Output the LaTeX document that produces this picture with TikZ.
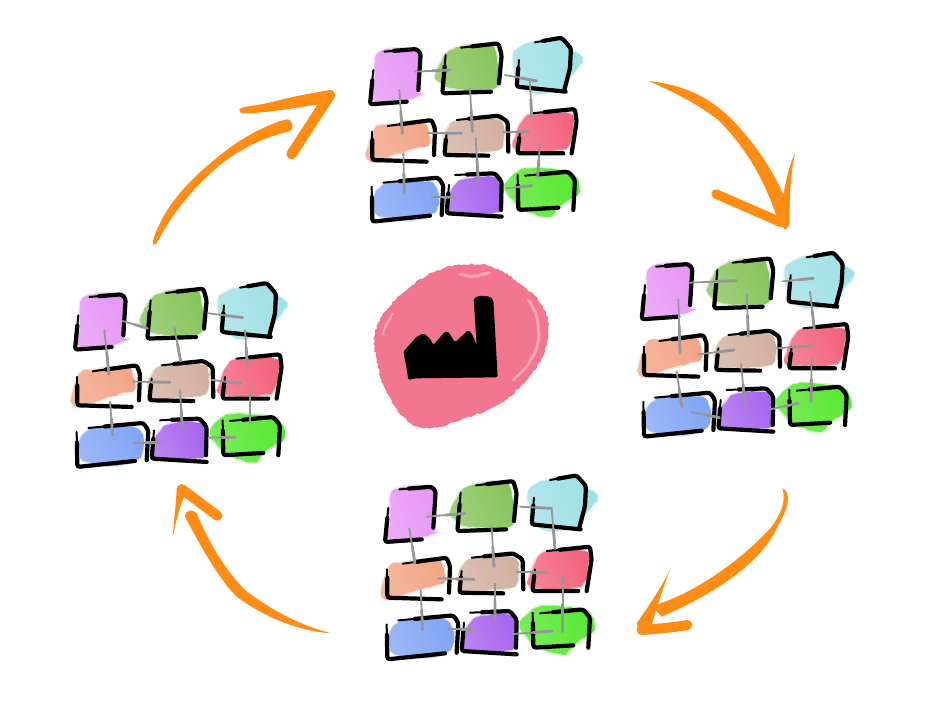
\documentclass[tikz,border=0pt]{standalone}
\usetikzlibrary{calc, decorations.pathmorphing}
\definecolor{pad_pink}{RGB}{230, 150, 245}
\definecolor{pad_green}{RGB}{136, 196, 92}
\definecolor{pad_cyan}{RGB}{160, 224, 230}
\definecolor{pad_salmon}{RGB}{242, 165, 135}
\definecolor{pad_tan}{RGB}{210, 176, 160}
\definecolor{pad_red}{RGB}{242, 100, 125}
\definecolor{pad_blue}{RGB}{130, 165, 245}
\definecolor{pad_violet}{RGB}{168, 100, 238}
\definecolor{pad_lime}{RGB}{88, 232, 50}
\definecolor{blob_rose}{RGB}{243, 118, 145}
\definecolor{arrow_orange}{RGB}{255, 140, 20}
\definecolor{link_gray}{RGB}{150, 150, 150}

\tikzset{
    % Wash of colour under each square
    padfill/.style={
        left color=#1!80!white,
        right color=#1,
        shading angle=115,
        decorate,
        decoration={random steps, segment length=4pt, amplitude=0.8pt}
    },
    padhalo/.style={
        draw=#1,
        line width=3pt,
        opacity=0.3,
        line join=round
    },
    % Black pen
    inkthin/.style={
        line width=2pt,
        line cap=round
    },
    ink/.style={
        line width=4.2pt,
        line cap=round,
        line join=round,
        rounded corners=2.5pt
    },
    % Gray links
    padlink/.style={
        draw=link_gray,
        line width=1.8pt,
        line cap=round
    },
    % Worn rim on the rose patch
    rimwash/.style={
        draw=white,
        opacity=0.35,
        line width=#1,
        line cap=round,
        decorate,
        decoration={random steps, segment length=3pt, amplitude=0.6pt}
    },
    % Orange arrows
    arrowink/.style={
        fill=arrow_orange
    },
    arrowbar/.style={
        draw=arrow_orange,
        line width=#1,
        line cap=round
    }
}

% colour, blob, top pen stroke, left pen stroke
\newcommand{\padcell}[8]{
    \draw[padhalo=#1] plot[smooth cycle, tension=0.5] coordinates {#2};
    \shade[padfill=#1] plot[smooth cycle, tension=0.5] coordinates {#2};
    \draw[inkthin] #3 -- #4;
    \draw[ink] ($#3!0.3!#4$) -- #4 #5;
    \draw[inkthin] #6 -- #7;
    \draw[ink] ($#6!0.3!#7$) -- #7 #8;
}

\newcommand{\padcells}{
    \padcell{pad_pink}{(65,90) (125,70) (185,85) (190,195) (205,205) (150,225) (60,228) (60,170)}
        {(88,80)}{(185,72)}{-- (197,85) -- (190,195)}{(55,135)}{(45,238)}{-- (155,230)}
    \padcell{pad_green}{(242,150) (275,85) (340,60) (415,68) (430,175) (380,195) (290,190) (260,175)}
        {(318,68)}{(430,55)}{-- (440,90) -- (432,175)}{(272,90)}{(262,205)}{-- (408,200)}
    \padcell{pad_cyan}{(475,90) (520,55) (610,45) (640,70) (680,100) (650,150) (620,190) (540,205) (490,175)}
        {(540,52)}{(620,38)}{-- (648,70) -- (645,130) -- (628,195)}{(492,105)}{(485,185)}{-- (632,200)}
    \padcell{pad_salmon}{(35,390) (60,310) (100,300) (200,290) (225,340) (215,360) (130,385) (60,410)}
        {(98,303)}{(230,285)}{-- (240,310) -- (237,390)}{(52,320)}{(52,405)}{-- (215,410)}
    \padcell{pad_tan}{(265,340) (300,290) (430,285) (445,350) (420,375) (300,385) (275,380)}
        {(305,285)}{(430,272)}{-- (458,290) -- (460,380)}{(275,325)}{(268,390)}{-- (400,392)}
    \padcell{pad_red}{(480,340) (520,270) (640,265) (655,300) (630,370) (490,375)}
        {(530,265)}{(660,252)}{-- (665,290) -- (650,385)}{(495,320)}{(487,385)}{-- (625,385)}
    \padcell{pad_blue}{(60,510) (100,475) (220,470) (250,510) (240,560) (170,585) (70,570)}
        {(85,473)}{(250,458)}{-- (265,480) -- (260,570)}{(50,485)}{(52,590)}{-- (225,572)}
    \padcell{pad_violet}{(280,520) (320,465) (420,460) (440,545) (400,565) (290,565)}
        {(300,450)}{(420,445)}{-- (440,470) -- (438,555)}{(282,480)}{(275,565)}{-- (440,575)}
    \padcell{pad_lime}{(450,490) (490,440) (540,430) (650,445) (672,500) (620,540) (580,575) (500,550)}
        {(510,452)}{(640,440)}{-- (660,465) -- (655,555)}{(488,450)}{(490,555)}{-- (610,548)}
}

% prefix, origin x, origin y, links
\newcommand{\padgrid}[4]{
    \begin{scope}[shift={(#2,#3)}, x=0.3333pt, y=-0.3333pt]
        \foreach \i/\cx/\cy in {1/120/150, 2/350/130, 3/560/120, 4/140/350, 5/360/330,
                                6/570/320, 7/150/520, 8/360/510, 9/570/500}
            \coordinate (#1\i) at (\cx,\cy);
        \padcells
        \foreach \a/\ax/\ay/\b/\bx/\by in {#4} {
            \coordinate (from) at ([shift={(\ax,\ay)}]#1\a);
            \coordinate (to) at ([shift={(\bx,\by)}]#1\b);
            \draw[padlink] (from) -- (to);
            \draw[padlink, line width=2.8pt] ($(from)!0.5!(to)$) -- (to);
        }
    \end{scope}
}

\begin{document}
\begin{tikzpicture}[x=1pt, y=-1pt]
\useasboundingbox (0,0) rectangle (950,713);
\fill[white] (0,0) rectangle (950,713);

% The four grids
\padgrid{t}{355}{25}{1/60/-10/2/-65/5, 2/100/20/3/-15/48, 3/-35/50/6/-40/-45,
    1/13/45/4/2/-25, 2/-5/60/5/-8/-10, 4/78/-25/5/-40/-5, 5/85/-8/6/-50/0,
    4/5/35/7/-2/-15, 5/2/10/8/10/-38, 6/-15/35/9/-22/-45, 7/80/-3/8/-62/7, 8/92/-20/9/-40/-18}
\padgrid{r}{626.7}{240}{1/70/-22/2/-20/-8, 2/118/-6/3/0/-5, 3/-10/35/6/-7/-52,
    1/35/28/4/20/-10, 2/10/35/5/5/-42, 4/75/-7/5/-38/0, 5/90/-5/6/-15/-3,
    4/10/45/7/15/-20, 5/-17/42/8/-5/-15, 6/-15/35/9/-17/-15, 7/40/-5/8/-82/23, 8/70/-2/9/-55/-10}
\padgrid{b}{370}{462.7}{1/50/12/2/-65/22, 2/100/2/3/-15/17, 3/-15/17/6/-15/-63,
    1/-2/47/4/-5/-48, 2/15/62/5/12/-18, 4/65/-3/5/-48/20, 5/80/-1/6/-40/9,
    4/12/32/7/8/-18, 5/15/32/8/15/-41, 6/8/22/9/8/7, 7/85/-20/8/-52/-10, 8/70/4/9/-22/5}
\padgrid{l}{60}{270.3}{1/68/2/2/-88/44, 2/95/-1/3/-12/22, 3/-5/59/6/-8/-36,
    1/13/29/4/7/-38, 2/-7/42/5/2/-58, 4/78/-16/5/-30/6, 5/95/-1/6/-28/19,
    4/10/44/7/8/-26, 5/0/29/8/7/-36, 6/0/42/9/0/-44, 7/70/-3/8/-60/7, 8/85/-8/9/-45/1}

% Factory on its rose patch
\begin{scope}[shift={(365,255)}, x=0.3333pt, y=-0.3333pt]
    \fill[blob_rose, decorate, decoration={random steps, segment length=2.5pt, amplitude=0.9pt}]
        plot[smooth cycle, tension=0.7] coordinates {(30,240) (60,170) (130,100) (210,50) (290,30)
            (380,35) (470,90) (530,150) (550,220) (530,310) (470,390) (400,450) (300,490)
            (190,520) (120,490) (60,400) (35,310)};
    \draw[rimwash=3pt] (490,135) .. controls (520,170) and (535,240) .. (505,300);
    \draw[rimwash=2.5pt] (445,375) .. controls (475,350) and (490,330) .. (505,300);
    \draw[rimwash=3pt] (285,58) .. controls (320,68) and (345,62) .. (375,52);
    \draw[rimwash=2pt] (55,240) .. controls (60,215) and (70,195) .. (85,175);
    \fill[black, rounded corners=1.5pt] (115,290) -- (155,245) -- (175,235) -- (195,250) -- (205,270)
        -- (240,230) -- (250,230) -- (270,262) -- (310,225) -- (320,235) -- (335,270) -- (326,130)
        -- (345,122) -- (375,125) -- (385,135) -- (390,220) -- (398,367) -- (150,370)
        -- (130,375) -- (125,340) -- cycle;
\end{scope}

% Orange arrows, clockwise from the top
\begin{scope}[shift={(630,70)}, x=0.3333pt, y=-0.3333pt]
    \fill[arrowink] (55,33) .. controls (170,45) and (230,85) .. (275,120)
        .. controls (350,185) and (425,290) .. (460,375)
        .. controls (470,320) and (480,280) .. (495,250)
        .. controls (480,320) and (478,400) .. (478,465) -- (465,480) -- (440,440)
        .. controls (400,320) and (340,225) .. (265,150)
        .. controls (200,100) and (120,60) .. (55,33) -- cycle;
    \draw[arrowbar=9.5pt] (258,372) -- (455,458);
\end{scope}
\begin{scope}[shift={(625,480)}, x=0.3333pt, y=-0.3333pt]
    \fill[arrowink] (472,25) .. controls (495,35) and (498,70) .. (460,135)
        .. controls (410,250) and (270,340) .. (110,410) -- (92,390) -- (100,372)
        .. controls (230,330) and (370,220) .. (440,140)
        .. controls (480,85) and (480,50) .. (472,25) -- cycle;
    \fill[arrowink] (135,270) .. controls (112,330) and (95,385) .. (78,440)
        -- (45,462) -- (35,430) .. controls (70,380) and (110,320) .. (135,270) -- cycle;
    \draw[arrowbar=10pt] (50,450) .. controls (90,447) and (140,443) .. (187,435);
\end{scope}
\begin{scope}[shift={(160,475)}, x=0.3333pt, y=-0.3333pt]
    \fill[arrowink] (515,475) .. controls (420,470) and (310,425) .. (230,365)
        .. controls (175,310) and (120,210) .. (75,125)
        .. controls (75,105) and (100,100) .. (110,115)
        .. controls (150,210) and (200,290) .. (255,345)
        .. controls (340,410) and (430,455) .. (515,475) -- cycle;
    \fill[arrowink] (38,188) .. controls (42,130) and (48,90) .. (50,40)
        -- (75,60) .. controls (60,90) and (50,130) .. (38,188) -- cycle;
    \draw[arrowbar=10pt] (65,42) -- (172,122);
\end{scope}
\begin{scope}[shift={(140,80)}, x=0.3333pt, y=-0.3333pt]
    \fill[arrowink] (40,495) .. controls (35,480) and (50,450) .. (70,410)
        .. controls (110,340) and (170,280) .. (260,210)
        .. controls (320,165) and (390,130) .. (440,118)
        .. controls (460,118) and (465,150) .. (445,155)
        .. controls (380,170) and (310,200) .. (240,255)
        .. controls (160,320) and (90,410) .. (50,490) -- cycle;
    \fill[arrowink] (298,90) .. controls (300,78) and (340,82) .. (420,60)
        .. controls (480,45) and (540,35) .. (570,30) -- (585,50) -- (545,72)
        .. controls (470,82) and (380,100) .. (310,100) .. controls (303,100) and (298,96) .. (298,90) -- cycle;
    \draw[arrowbar=10.5pt] (570,45) -- (455,222);
\end{scope}
\end{tikzpicture}
\end{document}
